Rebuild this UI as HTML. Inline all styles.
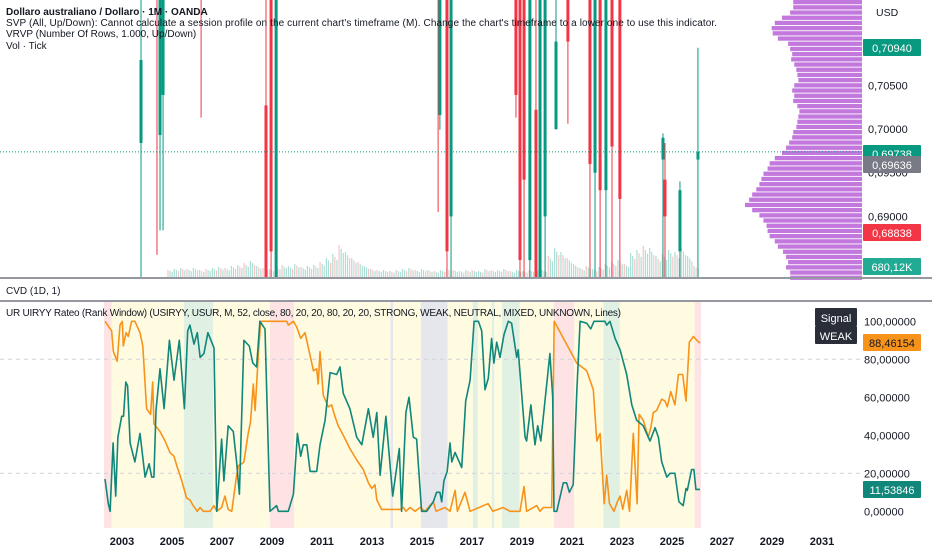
<!DOCTYPE html>
<html><head><meta charset="utf-8"><style>
body{margin:0;width:932px;height:550px;overflow:hidden;background:#fff;font-family:"Liberation Sans",sans-serif}
svg{display:block}
</style></head><body>
<svg id="c" width="932" height="550" xmlns="http://www.w3.org/2000/svg">
<defs><clipPath id="topclip"><rect x="0" y="0" width="862" height="278"/></clipPath>
<clipPath id="botclip"><rect x="0" y="302" width="862" height="226"/></clipPath></defs>
<g id="bands" clip-path="url(#botclip)"></g>
<g id="grid"></g>
<g id="vol" clip-path="url(#topclip)"></g>
<g id="vp"></g>
<g id="candles" clip-path="url(#topclip)"></g>
<g id="lines" clip-path="url(#botclip)"></g>
<g id="axes"></g>
</svg>
<script>
// ---- Data ----
const tealDates=[2002.54,2002.67,2002.74,2002.86,2002.96,2003.05,2003.20,2003.27,2003.36,2003.43,2003.53,2003.72,2003.92,2004.12,2004.28,2004.38,2004.47,2004.55,2004.71,2004.87,2005.08,2005.26,2005.47,2005.67,2005.80,2005.89,2006.05,2006.18,2006.29,2006.44,2006.60,2006.84,2006.95,2007.14,2007.23,2007.40,2007.60,2007.73,2007.84,2008.02,2008.23,2008.37,2008.52,2008.65,2008.85,2009.05,2009.31,2009.38,2009.77,2009.97,2010.13,2010.26,2010.36,2010.50,2010.63,2010.89,2011.02,2011.22,2011.42,2011.68,2011.81,2011.94,2012.20,2012.47,2012.67,2012.93,2013.12,2013.26,2013.39,2013.62,2013.89,2014.15,2014.24,2014.41,2014.53,2014.70,2014.83,2015.03,2015.23,2015.49,2015.62,2015.75,2015.82,2015.91,2016.04,2016.15,2016.22,2016.35,2016.48,2016.61,2016.77,2016.94,2017.10,2017.27,2017.40,2017.53,2017.66,2017.79,2017.88,2017.99,2018.12,2018.28,2018.45,2018.58,2018.78,2018.84,2019.11,2019.17,2019.34,2019.50,2019.61,2019.73,2020.09,2020.20,2020.25,2020.36,2020.62,2020.75,2020.86,2021.01,2021.15,2021.28,2021.54,2021.70,2021.83,2022.26,2022.33,2022.46,2022.66,2022.86,2023.12,2023.32,2023.51,2023.77,2024.04,2024.24,2024.37,2024.50,2024.70,2024.83,2025.02,2025.18,2025.35,2025.46,2025.51,2025.68,2025.77,2025.85,2026.01];
const tealValues=[17,4,0,36,8,39,50,50,68,66,36,26,41,18,25,18,18,53,75,54,90,69,90,54,95,98,88,94,81,83,94,86,0,38,16,45,42,26,9,90,87,78,76,100,96,0,3,0,0,9,41,29,35,35,21,21,35,48,73,72,76,62,54,39,35,54,39,52,19,50,8,33,0,52,60,39,38,0,0,5,10,10,5,16,21,36,26,31,27,23,58,69,100,100,95,64,70,91,78,89,81,93,100,99,81,85,39,37,56,35,45,37,83,60,0,0,15,15,10,14,63,100,99,96,100,100,98,100,91,85,72,56,48,45,37,44,39,26,18,20,20,5,3,12,11,22,22,11.5,11.5];
const orangeDates=[2002.54,2002.80,2002.87,2003.02,2003.13,2003.22,2003.26,2003.37,2003.46,2003.59,2003.72,2003.92,2004.03,2004.18,2004.34,2004.42,2004.47,2004.71,2004.91,2005.10,2005.26,2005.37,2005.57,2005.76,2005.89,2006.02,2006.18,2006.29,2006.42,2006.68,2006.84,2006.95,2007.14,2007.27,2007.40,2007.54,2007.71,2007.80,2007.93,2008.02,2008.19,2008.28,2008.39,2008.46,2008.59,2008.68,2009.71,2009.77,2009.97,2010.10,2010.26,2010.43,2010.63,2010.76,2010.89,2010.95,2011.02,2011.15,2011.35,2011.48,2011.61,2011.74,2011.94,2012.20,2012.47,2012.73,2012.93,2013.06,2013.19,2013.26,2013.45,2014.18,2014.31,2014.41,2014.57,2014.77,2014.97,2015.16,2015.49,2015.60,2015.95,2016.15,2016.35,2016.44,2016.74,2016.94,2017.65,2017.84,2018.24,2018.52,2018.91,2019.07,2019.17,2019.57,2019.70,2019.83,2020.16,2020.26,2021.15,2021.54,2021.80,2021.94,2022.07,2022.23,2022.33,2022.44,2022.62,2022.75,2022.86,2022.96,2023.12,2023.23,2023.38,2023.53,2023.61,2023.77,2023.97,2024.07,2024.17,2024.30,2024.50,2024.63,2024.72,2024.86,2025.02,2025.16,2025.33,2025.46,2025.59,2025.75,2025.89,2026.01];
const orangeValues=[100,95,84,79,98,100,87,94,92,100,100,94,87,54,51,68,46,42,37,31,29,24,16,7,6,3,0,2,0,0,3,0,2,8,1,0,17,24,25,26,41,47,67,53,83,100,100,98,100,97,91,94,82,74,75,67,84,61,55,56,50,45,40,33,27,22,15,12,14,6,1,1,2,0,2,0,2,0,5,0,2,0,11,0,10,0,4,0,2,0,0,13,0,3,0,2,2,100,78,74,64,37,41,4,19,4,0,5,8,1,11,0,41,4,51,48,39,44,52,53,59,58,55,63,56,72,72,58,89,92,90,88.5];
const bandStarts=[2002.5,2002.8,2005.65,2006.8,2009.05,2010.0,2013.8,2013.9,2015.0,2016.05,2017.05,2017.25,2017.8,2017.9,2018.2,2018.9,2020.25,2021.05,2022.2,2022.85,2025.8];
const bandEnds  =[2002.8,2005.65,2006.8,2009.05,2010.0,2013.8,2013.9,2015.0,2016.05,2017.05,2017.25,2017.8,2017.9,2018.2,2018.9,2020.25,2021.05,2022.2,2022.85,2025.8,2026.05];
const bandTypes =["weak","neutral","strong","neutral","weak","neutral","unknown","neutral","unknown","neutral","strong","neutral","strong","neutral","strong","neutral","weak","neutral","strong","neutral","weak"];
const candleDates=[2003.96,2004.59,2004.71,2004.83,2006.33,2008.89,2009.09,2009.29,2015.68,2015.75,2016.03,2016.19,2018.75,2018.91,2019.07,2019.30,2019.54,2019.70,2019.90,2020.33,2020.80,2021.67,2021.87,2022.07,2022.30,2022.54,2022.85,2024.55,2024.63,2025.22,2025.93];
const candleOpen =[0.6984,0.7200,0.6993,0.7039,0.7200,0.7027,0.7200,0.6830,0.7200,0.7016,0.7200,0.6900,0.7200,0.7200,0.7200,0.6850,0.7022,0.6830,0.6900,0.7000,0.7200,0.7200,0.6950,0.7200,0.6930,0.7200,0.7200,0.6965,0.6942,0.6860,0.6965];
const candleClose=[0.7079,0.7190,0.7200,0.7200,0.7190,0.6830,0.6860,0.7200,0.7190,0.7200,0.6860,0.7150,0.7039,0.6850,0.6942,0.7150,0.6830,0.7200,0.7150,0.7100,0.7100,0.6960,0.7200,0.6930,0.7200,0.6980,0.6920,0.6990,0.6900,0.6930,0.6974];
const candleHigh =[0.7200,0.7200,0.7200,0.7200,0.7200,0.7200,0.7200,0.7200,0.7200,0.7200,0.7200,0.7200,0.7200,0.7200,0.7200,0.7200,0.7200,0.7200,0.7200,0.7200,0.7200,0.7200,0.7200,0.7200,0.7200,0.7200,0.7200,0.6995,0.6984,0.6940,0.7093];
const candleLow  =[0.6830,0.6856,0.6884,0.6884,0.7013,0.6830,0.6830,0.6830,0.6905,0.6999,0.6830,0.6830,0.7013,0.6830,0.6830,0.6830,0.6830,0.6830,0.6830,0.6999,0.7006,0.6830,0.6830,0.6830,0.6830,0.6830,0.6830,0.6830,0.6830,0.6830,0.6830];
const volStart=2005.0, volStep=0.25;
const volValues=[8,9,10,9,10,8,9,10,11,10,12,13,15,17,12,10,9,11,13,12,14,11,12,13,16,20,24,33,26,20,16,12,9,8,8,7,8,9,10,8,9,8,7,8,9,8,7,8,8,7,9,8,8,9,7,8,7,8,9,8,22,30,26,20,14,10,12,9,11,14,16,18,14,25,28,32,30,22,24,28,26,30,22,12];
const vpValues=[67,67,70,78,85,88,87,82,72,70,68,69,66,64,63,62,66,68,66,67,63,61,62,63,64,67,68,71,74,78,85,90,92,96,98,100,103,107,110,114,107,100,96,93,92,90,85,82,77,74,72,74,70,70];
const yTickVals=[0,20,40,60,80,100];
const priceTicks=[0.705,0.700,0.695,0.690];
const yearTicks=[2003,2005,2007,2009,2011,2013,2015,2017,2019,2021,2023,2025,2027,2029,2031];

// ---- scales ----
const X=t=>104+(t-2002.5)*25.35;
const XL=y=>122+(y-2003)*25;
const YB=v=>511.3-v*1.9;
const YP=p=>129+(0.70-p)/0.005*43.7;
const NS="http://www.w3.org/2000/svg";
function mk(tag,parent,attrs){const e=document.createElementNS(NS,tag);for(const k in attrs)e.setAttribute(k,attrs[k]);parent.appendChild(e);return e;}
const bandColor={weak:"#fde3e3",neutral:"#fffbe1",strong:"#e0f1e4",unknown:"#e6e7ec"};

const gB=document.getElementById('bands');
bandStarts.forEach((s,i)=>{const r=mk('rect',gB,{x:X(s),y:302,width:Math.max(0,X(bandEnds[i])-X(s)),height:226,fill:bandColor[bandTypes[i]]});

});

const gG=document.getElementById('grid');
[20,80].forEach(v=>{const l=mk('line',gG,{x1:0,x2:862,y1:YB(v),y2:YB(v),stroke:"#d0d3da","stroke-dasharray":"4 4","stroke-width":1});

});

const gV=document.getElementById('vol');
volValues.forEach((v,i)=>{const t=volStart+i*volStep;for(let k=0;k<3;k++){const r=mk('rect',gV,{x:X(t)+k*2.1,y:278-v*(1-k*0.12),width:1.2,height:v*(1-k*0.12),fill:(i+k)%3===0?"#f7c4c4":"#acdfd6"});

}});

const gP=document.getElementById('vp');
const vpMax=Math.max(...vpValues);
vpValues.forEach((v,i)=>{const w=v/vpMax*117;const r=mk('rect',gP,{x:862-w,y:i*5.2,width:w,height:4.3,fill:"#b760d6",opacity:0.85});

});

const gC=document.getElementById('candles');
candleDates.forEach((t,i)=>{const up=candleClose[i]>=candleOpen[i];const col=up?"#089981":"#f23645";const x=X(t);
const w=mk('line',gC,{x1:x,x2:x,y1:YP(candleHigh[i]),y2:YP(candleLow[i]),stroke:col,"stroke-width":1});


const top=Math.min(YP(candleOpen[i]),YP(candleClose[i]));const h=Math.abs(YP(candleOpen[i])-YP(candleClose[i]));
const b=mk('rect',gC,{x:x-1.5,y:top,width:3,height:Math.max(1,h),fill:col});

});
const pl=mk('line',gC,{x1:0,x2:862,y1:YP(0.69738),y2:YP(0.69738),stroke:"#089981","stroke-dasharray":"1 2","stroke-width":1});



const gL=document.getElementById('lines');
function series(d,v,col,name){const p=mk('path',gL,{d:d.map((t,i)=>(i?'L':'M')+X(t).toFixed(1)+','+YB(v[i]).toFixed(1)).join(''),fill:"none",stroke:col,"stroke-width":1.6,"stroke-linejoin":"round"});

}
series(orangeDates,orangeValues,"#f7931a","orange-rank-line");
series(tealDates,tealValues,"#10877a","teal-rank-line");

const gA=document.getElementById('axes');
function txt(x,y,s,attrs,name){const e=mk('text',gA,Object.assign({x:x,y:y,"font-size":11,fill:"#131722"},attrs||{}));e.textContent=s;

return e;}
function box(x,y,w,h,col,s,name,tc){const r=mk('rect',gA,{x:x,y:y,width:w,height:h,fill:col,rx:1});


txt(x+w/2,y+h-4,s,{"text-anchor":"middle",fill:tc||"#fff"},name);}
let s1=mk('rect',gA,{x:0,y:277,width:932,height:2,fill:"#9598a1"});
let s2=mk('rect',gA,{x:0,y:300,width:932,height:2,fill:"#9598a1"});
txt(6,15,"Dollaro australiano / Dollaro · 1M · OANDA",{"font-weight":"bold","font-size":10},'symbol-title');
txt(6,26,"SVP (All, Up/Down): Cannot calculate a session profile on the current chart's timeframe (M). Change the chart's timeframe to a lower one to use this indicator.",{"font-size":10,"textLength":711},'svp-legend');
txt(6,37,"VRVP (Number Of Rows, 1.000, Up/Down)",{"font-size":10},'vrvp-legend');
txt(6,49,"Vol · Tick",{"font-size":10},'vol-legend');
txt(6,294,"CVD (1D, 1)",{"font-size":10},'cvd-legend');
txt(6,316,"UR UIRYY Rateo (Rank Window) (USIRYY, USUR, M, 52, close, 80, 20, 20, 80, 20, 20, STRONG, WEAK, NEUTRAL, MIXED, UNKNOWN, Lines)",{"font-size":10,"textLength":615},'indicator-legend');
txt(876,16,"USD",{"font-size":10.5},'currency-label');
priceTicks.forEach(p=>txt(868,YP(p)+4,p.toFixed(5).replace('.',','),{"font-size":11},'price-tick'));
yTickVals.forEach(v=>txt(864,YB(v)+4,v.toFixed(5).replace('.',','),{"font-size":11},'y-tick'));
box(863,39,58,17,"#089981","0,70940",'high-label');
box(863,145,58,17,"#089981","0,69738",'last-price-label');
box(863,156,58,17,"#787b86","0,69636",'prev-close-label');
box(863,224,58,17,"#f23645","0,68838",'low-label');
box(863,258,58,17,"#22ab94","680,12K",'volume-label');
box(863,334,58,17,"#f7931a","88,46154",'orange-value-label',"#131722");
box(863,481,58,17,"#10877a","11,53846",'teal-value-label');
box(815,308,42,18,"#2a2e39","Signal",'signal-header');
box(815,326,42,18,"#2a2e39","WEAK",'signal-value');
yearTicks.forEach(y=>txt(XL(y),545,String(y),{"font-weight":"bold","text-anchor":"middle","font-size":11},'x-tick'));
</script>
</body></html>
